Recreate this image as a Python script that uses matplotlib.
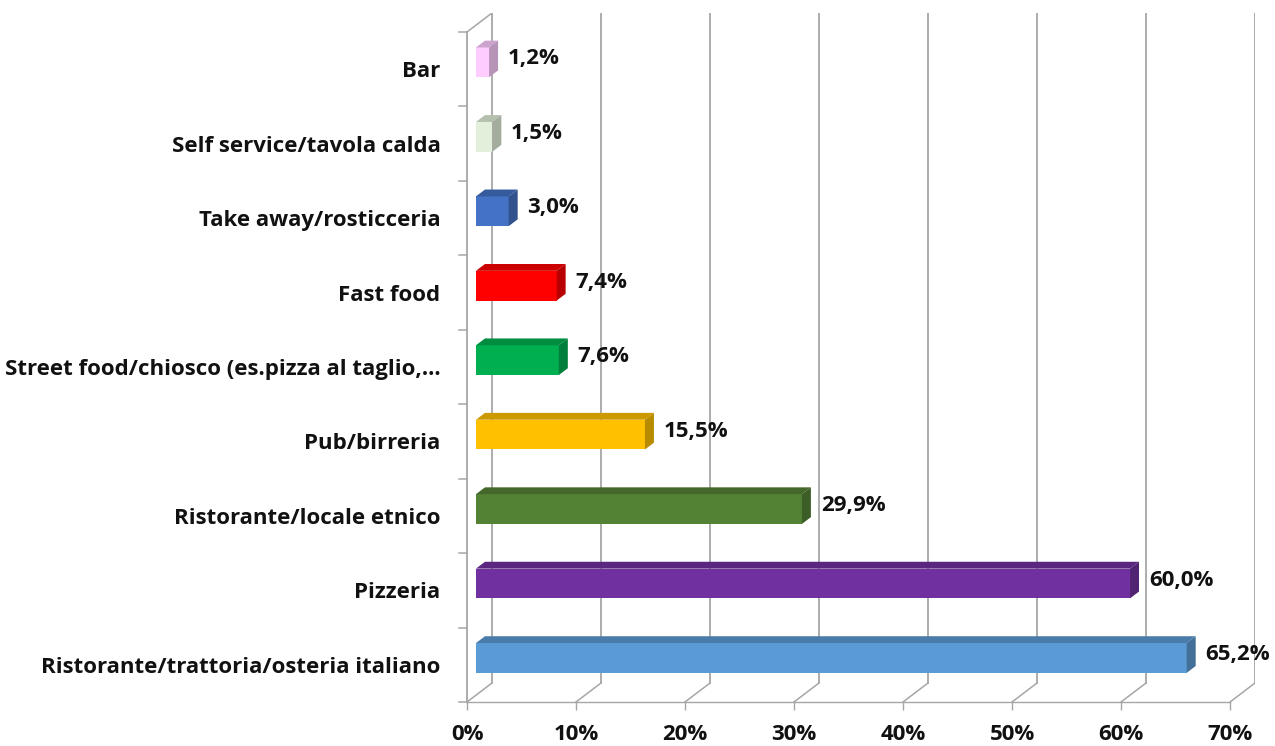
import numpy as np
import matplotlib.pyplot as plt
from matplotlib.patches import Polygon
from matplotlib.colors import to_rgb

# data, bottom to top
categories = ["Ristorante/trattoria/osteria italiano", "Pizzeria", "Ristorante/locale etnico",
              "Pub/birreria", "Street food/chiosco (es.pizza al taglio,...", "Fast food",
              "Take away/rosticceria", "Self service/tavola calda", "Bar"]
values = [65.2, 60.0, 29.9, 15.5, 7.6, 7.4, 3.0, 1.5, 1.2]
value_labels = ["65,2%", "60,0%", "29,9%", "15,5%", "7,6%", "7,4%", "3,0%", "1,5%", "1,2%"]
colors = ["#5B9BD5", "#7030A0", "#548235", "#FFC000", "#00B050", "#FF0000",
          "#4472C4", "#E2EFDA", "#FFCCFF"]
xticks = [0, 10, 20, 30, 40, 50, 60, 70]
xtick_labels = ["0%", "10%", "20%", "30%", "40%", "50%", "60%", "70%"]

plt.rcParams['font.family'] = ['Open Sans', 'DejaVu Sans']
plt.rcParams['font.weight'] = 'bold'

# 3D depth offset in data units
dx = 2.29
dy = 0.255
f0 = 0.36     # front face depth position
depth = 0.36  # bar depth
h = 0.4       # bar thickness
grid_c = "#A6A6A6"
txt_c = "#111111"
fs = 16

fig = plt.figure(figsize=(12.75, 7.46), dpi=100)
ax = fig.add_axes([467 / 1275, 44 / 746, 788 / 1275, 689 / 746])
ax.set_xlim(0, 70 + dx)
ax.set_ylim(-0.5, 8.5 + dy)
for s in ax.spines.values():
    s.set_visible(False)

n = len(categories)
# back wall gridlines and floor
for v in xticks:
    ax.plot([v + dx, v + dx], [-0.5 + dy, n - 0.5 + dy], color=grid_c, lw=1.3, zorder=1)
    ax.plot([v, v + dx], [-0.5, -0.5 + dy], color=grid_c, lw=1.1, zorder=1)
# front bottom edge and left wall
ax.plot([0, 70], [-0.5, -0.5], color=grid_c, lw=1.0, zorder=1, clip_on=False)
ax.plot([0, 0], [-0.5, n - 0.5], color=grid_c, lw=1.3, zorder=1, clip_on=False)
ax.plot([0, dx], [n - 0.5, n - 0.5 + dy], color=grid_c, lw=1.1, zorder=1)
# left ticks at boundaries
for b in np.arange(-0.5, n, 1.0):
    ax.plot([-0.7, 0], [b, b], color=grid_c, lw=1.1, clip_on=False, zorder=1)

# bars
y = np.arange(n)
x0 = f0 * dx
yc = y + f0 * dy
ax.barh(yc, values, left=x0, height=h, color=colors, zorder=3)
for i, v in enumerate(values):
    c = np.array(to_rgb(colors[i]))
    dark = c * 0.72
    top = c * 0.8
    xl, xr = x0, x0 + v
    yb, yt = yc[i] - h / 2, yc[i] + h / 2
    ox, oy = depth * dx, depth * dy
    ax.add_patch(Polygon([(xl, yt), (xr, yt), (xr + ox, yt + oy), (xl + ox, yt + oy)],
                         closed=True, facecolor=top, edgecolor='none', zorder=3))
    ax.add_patch(Polygon([(xr, yb), (xr, yt), (xr + ox, yt + oy), (xr + ox, yb + oy)],
                         closed=True, facecolor=dark, edgecolor='none', zorder=3))
    ax.text(xr + ox + 0.9, yc[i] + oy / 2, value_labels[i], ha='left', va='center',
            fontsize=fs, fontweight='bold', color=txt_c, zorder=4)

ax.set_yticks(y)
ax.set_yticklabels(categories, fontsize=fs, fontweight='bold', color=txt_c)
ax.tick_params(axis='y', length=0, pad=19)
ax.set_xticks(xticks)
ax.set_xticklabels(xtick_labels, fontsize=fs, fontweight='bold', color=txt_c)
ax.tick_params(axis='x', length=6, color=grid_c, width=1.0, pad=10)

fig.savefig("out.png", dpi=100)
